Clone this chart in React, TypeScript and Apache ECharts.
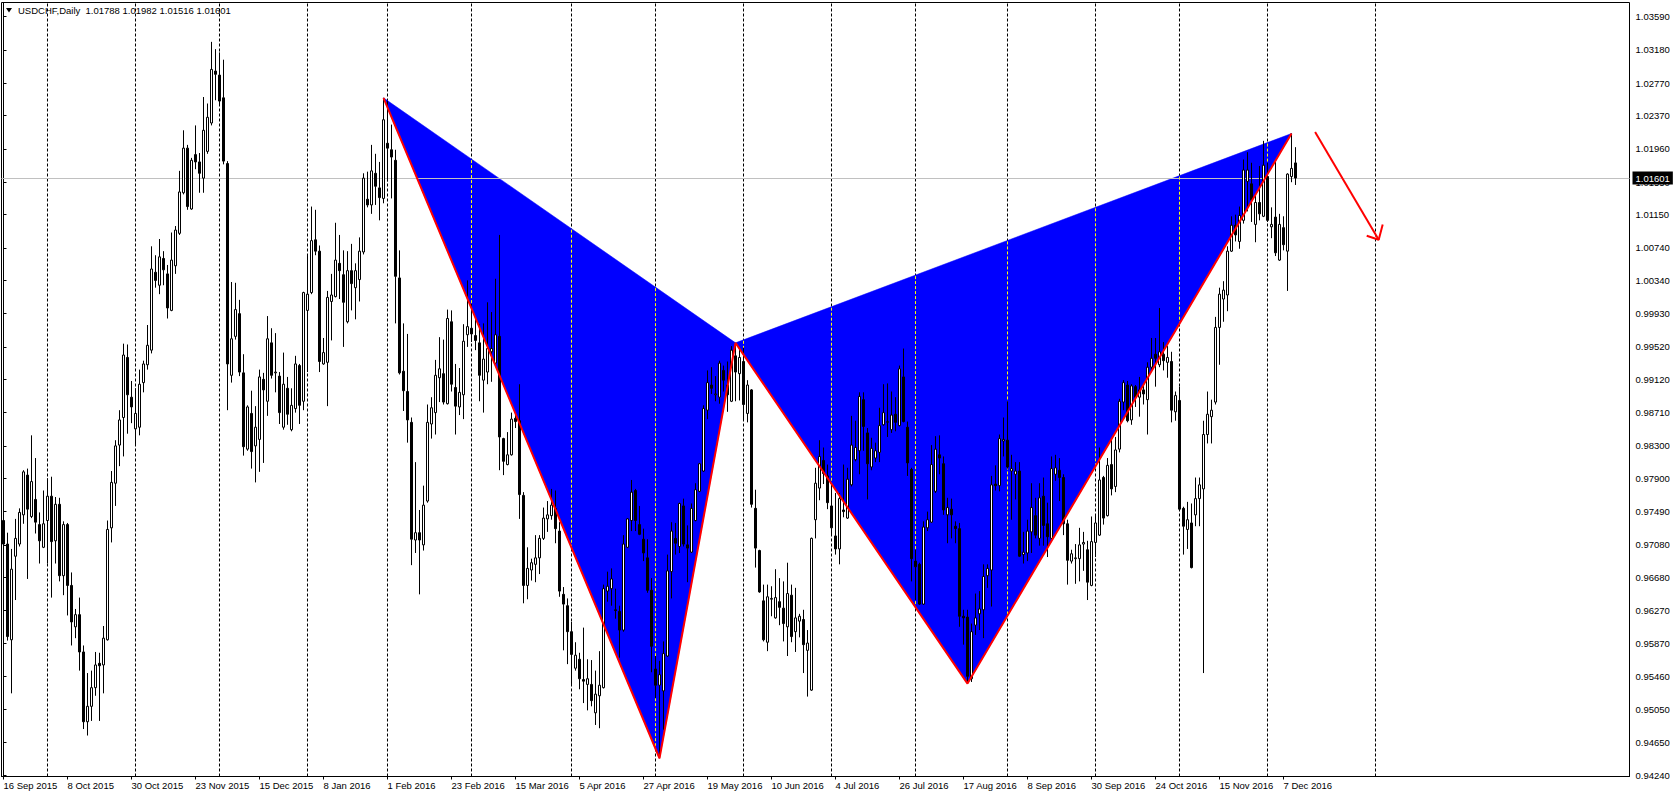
import React, { useEffect, useRef } from "react";
import * as echarts from "echarts";

const FONT = "Liberation Sans, Arial, sans-serif";
const SLOTS = 407;
const LABEL_STEP = 16;

const xLabels = [
  "16 Sep 2015", "8 Oct 2015", "30 Oct 2015", "23 Nov 2015", "15 Dec 2015", "8 Jan 2016",
  "1 Feb 2016", "23 Feb 2016", "15 Mar 2016", "5 Apr 2016", "27 Apr 2016", "19 May 2016",
  "10 Jun 2016", "4 Jul 2016", "26 Jul 2016", "17 Aug 2016", "8 Sep 2016", "30 Sep 2016",
  "24 Oct 2016", "15 Nov 2016", "7 Dec 2016",
];

const monthStarts = [11, 33, 54, 76, 96, 117, 142, 163, 185, 207, 228, 251, 273, 294, 316, 343];

const priceTicks = [
  0.9424, 0.9465, 0.9505, 0.9546, 0.9587, 0.9627, 0.9668, 0.9708, 0.9749, 0.979, 0.983, 0.9871,
  0.9912, 0.9952, 0.9993, 1.0034, 1.0074, 1.0115, 1.0155, 1.0196, 1.0237, 1.0277, 1.0318, 1.0359,
];

const opens = [
  0.9738, 0.9709, 0.9591, 0.9694, 0.9709, 0.9745, 0.9794, 0.9743, 0.9764, 0.9733,
  0.9705, 0.9738, 0.9768, 0.9713, 0.9758, 0.967, 0.9733, 0.9658, 0.9607, 0.9622,
  0.9576, 0.949, 0.9509, 0.9532, 0.9562, 0.956, 0.9591, 0.9729, 0.9784, 0.9831,
  0.9865, 0.9939, 0.989, 0.9851, 0.9853, 0.9908, 0.993, 0.9948, 1.0044, 1.0028,
  1.0061, 1.0042, 0.9997, 1.0052, 1.0092, 1.0142, 1.0197, 1.0122, 1.0189, 1.018,
  1.016, 1.0193, 1.0228, 1.0292, 1.0287, 1.0259, 1.0178, 0.9917, 0.9965, 0.9993,
  0.992, 0.9826, 0.987, 0.983, 0.9838, 0.9912, 0.9885, 0.9957, 0.992, 0.9916,
  0.9853, 0.9901, 0.985, 0.9876, 0.9929, 0.9885, 0.9997, 1.0019, 1.0084, 1.007,
  0.9931, 0.9933, 1.0008, 1.0014, 1.0055, 1.0041, 0.9983, 1.0046, 1.0025, 1.0035,
  1.0069, 1.0134, 1.0127, 1.0166, 1.0148, 1.0135, 1.0203, 1.0195, 1.0182, 1.0037,
  0.9922, 0.9897, 0.9859, 0.9714, 0.9723, 0.9708, 0.9762, 0.9857, 0.9871, 0.9914,
  0.9919, 0.9882, 0.9983, 0.9902, 0.9878, 0.9893, 0.9967, 0.9975, 0.9966, 0.9957,
  0.9911, 0.9921, 0.9946, 0.9932, 0.9965, 0.9839, 0.9807, 0.9819, 0.9864, 0.9861,
  0.9769, 0.9658, 0.9677, 0.9684, 0.9692, 0.9716, 0.974, 0.9744, 0.9753, 0.9725,
  0.9647, 0.9633, 0.9601, 0.9556, 0.9567, 0.9542, 0.9536, 0.9536, 0.9501, 0.9522,
  0.9532, 0.9651, 0.9654, 0.9628, 0.9626, 0.9603, 0.9705, 0.9738, 0.9775, 0.9733,
  0.9715, 0.9692, 0.9652, 0.9555, 0.9535, 0.9528, 0.9571, 0.9675, 0.9716, 0.9706,
  0.9756, 0.9708, 0.9699, 0.9738, 0.9774, 0.9799, 0.9874, 0.9905, 0.9893, 0.989,
  0.9923, 0.9905, 0.9885, 0.9941, 0.9919, 0.9934, 0.987, 0.9899, 0.9753, 0.9701,
  0.9639, 0.9588, 0.9641, 0.9618, 0.9638, 0.963, 0.9607, 0.9646, 0.9601, 0.9614,
  0.9616, 0.9578, 0.9529, 0.9739, 0.9778, 0.9812, 0.9793, 0.9756, 0.9719, 0.9703,
  0.9751, 0.9741, 0.9782, 0.9813, 0.9824, 0.9887, 0.9846, 0.9804, 0.9815, 0.9822,
  0.9856, 0.9859, 0.985, 0.9869, 0.9855, 0.9915, 0.9853, 0.9801, 0.9688, 0.9684,
  0.9635, 0.9729, 0.9736, 0.9774, 0.9819, 0.9808, 0.9745, 0.9752, 0.9731, 0.9728,
  0.962, 0.9619, 0.9543, 0.9609, 0.9623, 0.9628, 0.967, 0.9677, 0.9783, 0.9781,
  0.9836, 0.9837, 0.9799, 0.9795, 0.9799, 0.9696, 0.9698, 0.9724, 0.9744, 0.9716,
  0.9768, 0.9734, 0.9716, 0.9795, 0.98, 0.9791, 0.9734, 0.9688, 0.9691, 0.9691,
  0.9709, 0.9702, 0.9658, 0.9711, 0.972, 0.9791, 0.9744, 0.9807, 0.978, 0.9826,
  0.9884, 0.9905, 0.9862, 0.9903, 0.989, 0.9899, 0.9887, 0.9927, 0.9943, 0.993,
  0.9943, 0.9933, 0.9934, 0.9872, 0.9886, 0.9753, 0.9727, 0.9735, 0.9745, 0.9765,
  0.9777, 0.9844, 0.9866, 0.9884, 0.9976, 1.0011, 1.0016, 1.007, 1.0102, 1.0082,
  1.0108, 1.0156, 1.0153, 1.0103, 1.013, 1.0113, 1.0162, 1.01, 1.0112, 1.0059,
  1.0099, 1.007, 1.0162, 1.01788,
];

const highs = [
  0.9761, 0.9723, 0.9703, 0.974, 0.9753, 0.98, 0.9802, 0.9843, 0.9815, 0.9748,
  0.9775, 0.979, 0.9792, 0.9767, 0.9766, 0.9737, 0.9735, 0.9674, 0.9629, 0.9643,
  0.9584, 0.955, 0.9553, 0.9576, 0.9575, 0.9608, 0.9738, 0.9799, 0.9837, 0.9874,
  0.9956, 0.9955, 0.991, 0.9901, 0.9924, 0.9935, 0.9979, 1.0076, 1.0065, 1.0085,
  1.007, 1.0053, 1.0093, 1.0101, 1.0169, 1.0219, 1.0201, 1.0185, 1.0225, 1.0191,
  1.026, 1.0252, 1.0328, 1.0319, 1.0315, 1.0306, 1.0181, 1.0032, 1.0031, 1.001,
  0.9943, 0.988, 0.9898, 0.9879, 0.9924, 0.992, 0.999, 0.9975, 0.9969, 0.9921,
  0.9945, 0.9915, 0.9901, 0.9941, 0.9931, 1.002, 1.0065, 1.0125, 1.0121, 1.0077,
  0.9963, 1.0021, 1.0042, 1.0105, 1.009, 1.0071, 1.007, 1.0079, 1.0055, 1.0087,
  1.0166, 1.0168, 1.0201, 1.019, 1.018, 1.0259, 1.0255, 1.0226, 1.0195, 1.0071,
  0.9981, 0.9968, 0.9865, 0.981, 0.9751, 0.9781, 0.9881, 0.989, 0.9936, 0.9964,
  0.9961, 0.9998, 0.9997, 0.9931, 0.9926, 0.998, 1.0034, 1.0005, 0.9989, 0.998,
  0.9981, 1.0007, 0.9995, 1.0036, 1.009, 0.984, 0.9847, 0.9871, 0.9868, 0.9906,
  0.9773, 0.9705, 0.9691, 0.972, 0.972, 0.9754, 0.9762, 0.9777, 0.9775, 0.9736,
  0.9656, 0.9642, 0.9613, 0.9588, 0.9575, 0.9606, 0.9567, 0.9566, 0.9553, 0.9577,
  0.9659, 0.9675, 0.9679, 0.9654, 0.9633, 0.972, 0.9741, 0.9788, 0.9777, 0.9756,
  0.9728, 0.9715, 0.9667, 0.9571, 0.9565, 0.9589, 0.9696, 0.9736, 0.9735, 0.976,
  0.9765, 0.9732, 0.9759, 0.9784, 0.9809, 0.988, 0.9923, 0.9927, 0.9916, 0.9935,
  0.9929, 0.9934, 0.9953, 0.9957, 0.9951, 0.9951, 0.9911, 0.99, 0.9776, 0.9702,
  0.9659, 0.9659, 0.9657, 0.9678, 0.9667, 0.9663, 0.9686, 0.9659, 0.9655, 0.9623,
  0.9628, 0.9603, 0.9717, 0.9803, 0.9837, 0.9828, 0.9807, 0.9782, 0.9772, 0.9772,
  0.9807, 0.9803, 0.9867, 0.9861, 0.9896, 0.9896, 0.9852, 0.984, 0.9834, 0.9877,
  0.9906, 0.9907, 0.9897, 0.989, 0.9929, 0.995, 0.986, 0.9803, 0.9702, 0.9686,
  0.9737, 0.9749, 0.9831, 0.9842, 0.9843, 0.9817, 0.9766, 0.9765, 0.9737, 0.9735,
  0.9628, 0.9628, 0.9611, 0.9648, 0.9651, 0.9684, 0.9684, 0.9793, 0.9806, 0.9844,
  0.9865, 0.9885, 0.9819, 0.981, 0.981, 0.9724, 0.9739, 0.9784, 0.9766, 0.9784,
  0.9791, 0.976, 0.9817, 0.9819, 0.9815, 0.9795, 0.9739, 0.9702, 0.9709, 0.9729,
  0.9724, 0.9713, 0.9743, 0.9746, 0.9828, 0.9793, 0.9815, 0.9839, 0.9841, 0.9888,
  0.9911, 0.991, 0.9906, 0.9905, 0.9915, 0.9906, 0.9933, 0.9963, 0.9963, 1.0,
  0.9958, 0.9953, 0.9946, 0.9897, 0.9903, 0.9755, 0.9761, 0.9759, 0.9791, 0.9791,
  0.9861, 0.9897, 0.9887, 0.9989, 1.0025, 1.0033, 1.0076, 1.0113, 1.0115, 1.0125,
  1.0183, 1.0192, 1.0179, 1.0139, 1.0175, 1.0206, 1.0179, 1.0124, 1.0183, 1.0116,
  1.0113, 1.0166, 1.0215, 1.01982,
];

const lows = [
  0.9668, 0.959, 0.9525, 0.964, 0.9706, 0.9734, 0.9666, 0.9741, 0.9722, 0.9685,
  0.9704, 0.9685, 0.9643, 0.9685, 0.9663, 0.9646, 0.9621, 0.9584, 0.9593, 0.9553,
  0.9481, 0.9473, 0.9491, 0.9522, 0.9491, 0.9525, 0.959, 0.9711, 0.9756, 0.9805,
  0.9817, 0.9845, 0.9858, 0.9831, 0.9843, 0.9896, 0.9924, 0.9944, 1.0025, 1.0017,
  1.0028, 0.9987, 0.9996, 1.0042, 1.009, 1.014, 1.0121, 1.0121, 1.0171, 1.0142,
  1.0142, 1.019, 1.0225, 1.0256, 1.025, 1.0177, 0.9874, 0.9908, 0.9961, 0.9916,
  0.9818, 0.9824, 0.9802, 0.9785, 0.9798, 0.9809, 0.9867, 0.9913, 0.9896, 0.9857,
  0.985, 0.9856, 0.9848, 0.9871, 0.9857, 0.9874, 0.9921, 1.0017, 1.0065, 0.9921,
  0.993, 0.9879, 0.996, 1.0013, 1.0011, 0.9952, 0.9981, 0.9997, 0.9986, 1.0008,
  1.0066, 1.0124, 1.0116, 1.0127, 1.0108, 1.0129, 1.0156, 1.0135, 0.9981, 0.9918,
  0.9873, 0.9834, 0.9683, 0.9698, 0.9647, 0.9701, 0.976, 0.9839, 0.9844, 0.9884,
  0.9881, 0.9881, 0.9897, 0.9844, 0.9868, 0.9863, 0.9952, 0.9958, 0.9948, 0.9885,
  0.9871, 0.9906, 0.9909, 0.9931, 0.98, 0.9794, 0.9806, 0.9818, 0.9852, 0.974,
  0.9636, 0.9641, 0.9664, 0.9662, 0.9672, 0.9714, 0.9724, 0.9739, 0.971, 0.9644,
  0.9578, 0.9561, 0.9536, 0.9553, 0.953, 0.9513, 0.9504, 0.9509, 0.9486, 0.9482,
  0.9531, 0.9638, 0.9633, 0.9617, 0.9569, 0.9601, 0.9704, 0.9725, 0.9725, 0.972,
  0.9688, 0.9649, 0.9551, 0.9519, 0.9445, 0.948, 0.957, 0.9642, 0.9696, 0.9698,
  0.9706, 0.9662, 0.9698, 0.9737, 0.9773, 0.9798, 0.9863, 0.9894, 0.9885, 0.9882,
  0.9897, 0.9872, 0.9884, 0.9885, 0.9886, 0.9863, 0.9859, 0.9754, 0.968, 0.9649,
  0.9589, 0.9577, 0.962, 0.9617, 0.9609, 0.9589, 0.9571, 0.9588, 0.9576, 0.9594,
  0.955, 0.9521, 0.9528, 0.9716, 0.9763, 0.9783, 0.9752, 0.9719, 0.9696, 0.9684,
  0.9742, 0.974, 0.978, 0.9811, 0.9795, 0.9824, 0.9764, 0.98, 0.981, 0.981,
  0.9855, 0.9841, 0.9846, 0.9848, 0.9854, 0.9859, 0.9793, 0.9663, 0.964, 0.9634,
  0.9634, 0.9725, 0.9735, 0.9772, 0.9795, 0.9745, 0.971, 0.9716, 0.971, 0.9607,
  0.9585, 0.9537, 0.9539, 0.9597, 0.9603, 0.9593, 0.9655, 0.9632, 0.9775, 0.9774,
  0.9817, 0.9802, 0.9739, 0.9764, 0.9693, 0.9685, 0.9688, 0.9698, 0.9716, 0.9707,
  0.9707, 0.9693, 0.9715, 0.9787, 0.9762, 0.972, 0.9659, 0.9685, 0.966, 0.9663,
  0.9676, 0.964, 0.9657, 0.9693, 0.9719, 0.9733, 0.9743, 0.9769, 0.9773, 0.9822,
  0.9874, 0.9859, 0.9856, 0.9878, 0.9866, 0.9881, 0.9844, 0.9923, 0.9903, 0.9927,
  0.9923, 0.9914, 0.9859, 0.9861, 0.9751, 0.9696, 0.9703, 0.9679, 0.9731, 0.9731,
  0.955, 0.9833, 0.9833, 0.9881, 0.993, 0.9983, 0.9996, 1.0069, 1.0082, 1.0073,
  1.0104, 1.0119, 1.0106, 1.0081, 1.0108, 1.0112, 1.0106, 1.0086, 1.0064, 1.0058,
  1.0071, 1.0021, 1.0155, 1.01516,
];

const closes = [
  0.9709, 0.9595, 0.9678, 0.9716, 0.9748, 0.9798, 0.9752, 0.9786, 0.9736, 0.9713,
  0.9734, 0.9768, 0.9712, 0.9758, 0.967, 0.9733, 0.9658, 0.9613, 0.9622, 0.9576,
  0.949, 0.9509, 0.9532, 0.956, 0.9559, 0.9593, 0.9727, 0.9785, 0.983, 0.9862,
  0.9942, 0.9893, 0.9878, 0.987, 0.9906, 0.9931, 0.9954, 1.0048, 1.0034, 1.0063,
  1.0047, 1.0, 1.0059, 1.0096, 1.0143, 1.0197, 1.0125, 1.0182, 1.018, 1.0166,
  1.0219, 1.0235, 1.0294, 1.0288, 1.0255, 1.0181, 0.9931, 0.9962, 0.9998, 0.9921,
  0.9829, 0.9878, 0.9823, 0.9853, 0.9915, 0.9899, 0.9962, 0.9917, 0.9921, 0.9871,
  0.9906, 0.9869, 0.988, 0.9931, 0.988, 1.0019, 1.0017, 1.0083, 1.007, 0.9934,
  0.9945, 1.0013, 1.0016, 1.0059, 1.0046, 1.0007, 1.0046, 1.003, 1.0046, 1.007,
  1.016, 1.0127, 1.0169, 1.015, 1.0136, 1.0232, 1.0197, 1.0186, 1.0039, 0.992,
  0.9898, 0.9862, 0.9715, 0.9723, 0.9714, 0.9757, 0.9859, 0.9877, 0.9917, 0.9925,
  0.9884, 0.9987, 0.9906, 0.9879, 0.9896, 0.9959, 0.9977, 0.9968, 0.996, 0.9917,
  0.9937, 0.995, 0.995, 0.9967, 0.9841, 0.9811, 0.9819, 0.9863, 0.986, 0.977,
  0.9658, 0.9679, 0.9686, 0.9692, 0.9716, 0.9741, 0.9745, 0.9757, 0.9728, 0.9651,
  0.9635, 0.9601, 0.9573, 0.9572, 0.9543, 0.954, 0.9543, 0.9516, 0.9524, 0.9535,
  0.9654, 0.9657, 0.9666, 0.9627, 0.9603, 0.9709, 0.974, 0.9773, 0.9738, 0.9721,
  0.9698, 0.9652, 0.9583, 0.9535, 0.9548, 0.9574, 0.9676, 0.9725, 0.971, 0.9759,
  0.9709, 0.9704, 0.9753, 0.9776, 0.9808, 0.9876, 0.9908, 0.9901, 0.9894, 0.9932,
  0.9911, 0.9893, 0.9948, 0.9921, 0.9939, 0.9881, 0.9905, 0.9758, 0.9704, 0.965,
  0.9591, 0.9644, 0.9642, 0.9643, 0.9631, 0.9611, 0.9648, 0.9595, 0.9618, 0.962,
  0.9585, 0.9587, 0.9716, 0.9784, 0.9817, 0.9796, 0.976, 0.9729, 0.9703, 0.9765,
  0.9749, 0.9789, 0.9831, 0.9828, 0.9891, 0.9854, 0.9808, 0.9827, 0.9824, 0.9855,
  0.9871, 0.986, 0.9868, 0.9859, 0.9925, 0.986, 0.9809, 0.9691, 0.9681, 0.9635,
  0.973, 0.9739, 0.9807, 0.9826, 0.9815, 0.9751, 0.9754, 0.9745, 0.9728, 0.962,
  0.9618, 0.9546, 0.9601, 0.9618, 0.9629, 0.9669, 0.9679, 0.9782, 0.9781, 0.9839,
  0.9838, 0.9804, 0.9802, 0.9799, 0.9694, 0.9699, 0.9725, 0.9754, 0.972, 0.9766,
  0.9732, 0.9718, 0.9802, 0.9803, 0.9791, 0.9734, 0.9689, 0.9697, 0.9692, 0.9708,
  0.9711, 0.9662, 0.9712, 0.9735, 0.9788, 0.9741, 0.9806, 0.9777, 0.9825, 0.9885,
  0.9908, 0.9861, 0.9904, 0.989, 0.9899, 0.9894, 0.9927, 0.9938, 0.9938, 0.9946,
  0.9935, 0.9939, 0.9874, 0.9892, 0.9752, 0.9731, 0.9739, 0.968, 0.9765, 0.9782,
  0.9844, 0.9869, 0.9874, 0.9976, 1.0017, 1.0022, 1.007, 1.0102, 1.009, 1.0114,
  1.017, 1.017, 1.0133, 1.013, 1.0116, 1.0176, 1.0108, 1.0103, 1.0068, 1.0103,
  1.0078, 1.0165, 1.0172, 1.01601,
];

// X, A, B, C, D pivots (bar index, price)
const pivotIdx = [95, 164, 183, 241, 322];
const pivotPrice = [highs[95], lows[164], highs[183], lows[241], highs[322]];
const arrowShaft = [[327.9, 1.0217], [343.8, 1.0084]];
const arrowHead = [[340.8, 1.0089], [343.8, 1.0084], [344.8, 1.0103]];
const lastPrice = 1.01601;
const titleText = "USDCHF,Daily  1.01788 1.01982 1.01516 1.01601";

export default function App() {
  const ref = useRef<HTMLDivElement>(null);
  useEffect(() => {
    if (!ref.current) return;
    const chart = echarts.init(ref.current, undefined, { renderer: "svg" });
    const cats = Array.from({ length: SLOTS }, (_, i) => String(i));
    const showLabel = (i: number) => i % LABEL_STEP === 0 && i / LABEL_STEP < xLabels.length;
    const pts = pivotIdx.map((x, k) => [x, pivotPrice[k]]);
    const triangles = [
      [...pts[0], ...pts[1], ...pts[2]],
      [...pts[2], ...pts[3], ...pts[4]],
    ];
    const triPts = [[pts[0], pts[1], pts[2]], [pts[2], pts[3], pts[4]]];
    chart.setOption({
      animation: false,
      backgroundColor: "#fff",
      grid: {
        left: 1.5, right: 43.5, top: 2.5, bottom: 21.5,
        show: true, borderColor: "#000", borderWidth: 1, backgroundColor: "#fff",
      },
      xAxis: [
        {
          type: "category", data: cats, boundaryGap: true,
          axisLine: { show: true, lineStyle: { color: "#000", width: 1 } },
          axisTick: { show: true, interval: (i: number) => showLabel(i), alignWithLabel: true, length: 3, lineStyle: { color: "#000" } },
          axisLabel: {
            interval: (i: number) => showLabel(i),
            formatter: (_v: string, i: number) => xLabels[i / LABEL_STEP] || "",
            align: "left", margin: 4, color: "#000", fontSize: 9.5, fontFamily: FONT,
          },
          splitLine: { show: false },
        },
        { type: "value", min: -0.5, max: SLOTS - 0.5, show: false },
      ],
      yAxis: {
        type: "value", position: "right", min: 0.94225, max: 1.03765, scale: true,
        axisLine: { show: true, lineStyle: { color: "#000", width: 1 } },
        axisTick: { show: true, length: 3, customValues: priceTicks, lineStyle: { color: "#000" } },
        axisLabel: {
          customValues: priceTicks, formatter: (v: number) => v.toFixed(5),
          margin: 6, color: "#000", fontSize: 9.5, fontFamily: FONT,
        },
        splitLine: { show: false },
      },
      graphic: [
        { type: "polygon", shape: { points: [[6, 8], [12, 8], [9, 12.5]] }, style: { fill: "#000" }, z: 100 },
        {
          type: "text", x: 18, y: 10, z: 100,
          style: { text: titleText, fill: "#000", font: `9.5px ${FONT}`, verticalAlign: "middle" },
        },
      ],
      series: [
        {
          type: "custom", xAxisIndex: 1, yAxisIndex: 0, z: 2, silent: true,
          data: triangles,
          renderItem: (_p: any, api: any) => {
            const p = [0, 1, 2].map((k) => api.coord([api.value(k * 2), api.value(k * 2 + 1)]));
            return { type: "polygon", shape: { points: p }, style: { fill: "#0000ff", stroke: "#0000ff", lineWidth: 0.5 } };
          },
        },
        {
          // grid separators seen through the filled pattern (drawn inverted, yellow on blue)
          type: "custom", xAxisIndex: 1, yAxisIndex: 0, z: 2.2, silent: true,
          data: monthStarts.map((m) => [m]),
          renderItem: (_p: any, api: any) => {
            const m = api.value(0);
            const x = api.coord([m, 1])[0];
            const children: any[] = [];
            triPts.forEach((tri) => {
              const px = tri.map((q) => api.coord(q));
              const ys: number[] = [];
              for (let k = 0; k < 3; k++) {
                const a = px[k];
                const b = px[(k + 1) % 3];
                if (a[0] === b[0]) continue;
                const lo = Math.min(a[0], b[0]);
                const hi = Math.max(a[0], b[0]);
                if (x >= lo && x <= hi) ys.push(a[1] + ((x - a[0]) * (b[1] - a[1])) / (b[0] - a[0]));
              }
              if (ys.length >= 2) {
                children.push({
                  type: "line",
                  shape: { x1: x, y1: Math.min(...ys) + 1, x2: x, y2: Math.max(...ys) - 1 },
                  style: { stroke: "#ffff00", lineWidth: 1, lineDash: [3, 2] },
                });
              }
            });
            return { type: "group", children };
          },
        },
        {
          type: "candlestick", xAxisIndex: 0, yAxisIndex: 0, z: 3, silent: true,
          barWidth: 2,
          data: opens.map((o, i) => [o, closes[i], lows[i], highs[i]]),
          itemStyle: { color: "#fff", color0: "#000", borderColor: "#000", borderColor0: "#000", borderWidth: 1 },
        },
        {
          type: "line", xAxisIndex: 1, yAxisIndex: 0, z: 4, silent: true,
          data: pts, symbol: "none",
          lineStyle: { color: "#ff0000", width: 2 },
          markLine: {
            silent: true, symbol: "none", z: 1,
            label: { show: false },
            lineStyle: { color: "#000", type: [3, 2], width: 1 },
            data: monthStarts.map((m) => ({ xAxis: m })),
          },
        },
        {
          type: "line", xAxisIndex: 1, yAxisIndex: 0, z: 4, silent: true,
          data: arrowShaft, symbol: "none", lineStyle: { color: "#ff0000", width: 2 },
          markLine: {
            silent: true, symbol: "none", z: 2.5,
            lineStyle: { color: "#c0c0c0", type: "solid", width: 1 },
            label: {
              show: true, position: "end", distance: 3, formatter: lastPrice.toFixed(5),
              backgroundColor: "#000", color: "#fff", padding: [2, 3, 1, 3], fontSize: 9.5, fontFamily: FONT,
            },
            data: [[{ coord: [-0.5, lastPrice] }, { coord: [SLOTS - 0.5, lastPrice] }]],
          },
        },
        {
          type: "line", xAxisIndex: 1, yAxisIndex: 0, z: 4, silent: true,
          data: arrowHead, symbol: "none", lineStyle: { color: "#ff0000", width: 2 },
        },
      ],
    });
    return () => chart.dispose();
  }, []);
  return (
    <div
      ref={ref}
      style={{ position: "fixed", left: 0, top: 0, width: 1673, height: 798, background: "#fff" }}
    />
  );
}
